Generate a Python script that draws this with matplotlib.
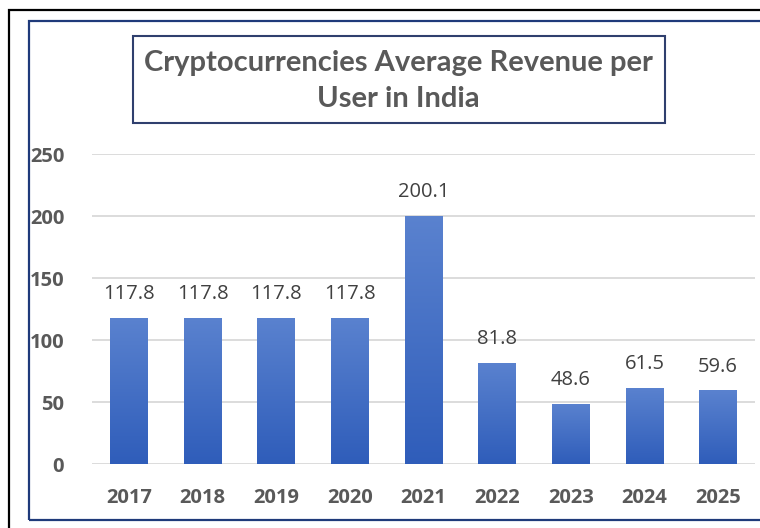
import matplotlib
matplotlib.use("Agg")
import matplotlib.pyplot as plt
import numpy as np
from matplotlib.patches import Rectangle
from matplotlib.colors import LinearSegmentedColormap

years = ["2017", "2018", "2019", "2020", "2021", "2022", "2023", "2024", "2025"]
values = [117.8, 117.8, 117.8, 117.8, 200.1, 81.8, 48.6, 61.5, 59.6]
labels = ["117.8", "117.8", "117.8", "117.8", "200.1", "81.8", "48.6", "61.5", "59.6"]
yticks = [0, 50, 100, 150, 200, 250]
title = "Cryptocurrencies Average Revenue per\nUser in India"

W, H = 760, 528
fig = plt.figure(figsize=(W / 100, H / 100), dpi=100)
fig.patch.set_facecolor("white")

# borders
fig.patches.append(Rectangle((8.5 / W, -0.1), 1.0, (H - 10) / H + 0.1, transform=fig.transFigure,
                             fill=False, edgecolor="black", linewidth=1.6))
fig.patches.append(Rectangle((28.5 / W, 1 - 520 / H), 1.0, 499 / H, transform=fig.transFigure,
                             fill=False, edgecolor="#1f3a7a", linewidth=1.6))

ax = fig.add_axes([92 / W, 1 - 464 / H, 663 / W, 310 / H])
x = np.arange(len(years))
bars = ax.bar(x, values, width=0.51, color="#4472c4", zorder=2)

cmap = LinearSegmentedColormap.from_list("g", ["#2f5dba", "#5a82cf"])
grad = np.linspace(0, 1, 256).reshape(-1, 1)
for b in bars:
    x0, w, h = b.get_x(), b.get_width(), b.get_height()
    im = ax.imshow(grad, extent=(x0, x0 + w, 0, h), origin="lower", cmap=cmap,
                   aspect="auto", zorder=3)
    im.set_clip_path(b)

for xi, v, lab in zip(x, values, labels):
    ax.text(xi, v + 19, lab, ha="center", va="center", fontsize=14.5,
            color="#404040", family="Open Sans")

ax.set_xlim(-0.5, 8.5)
ax.set_ylim(0, 250)
ax.set_yticks(yticks)
ax.set_yticklabels([str(t) for t in yticks])
ax.set_xticks(x)
ax.set_xticklabels(years)
for lbl in ax.get_xticklabels() + ax.get_yticklabels():
    lbl.set_fontweight("bold")
    lbl.set_color("#595959")
    lbl.set_fontsize(14.5)
    lbl.set_family("Open Sans")
ax.tick_params(axis="both", length=0)
ax.tick_params(axis="x", pad=17)
ax.tick_params(axis="y", pad=20)
ax.grid(axis="y", color="#d9d9d9", linewidth=1.3, zorder=0)
for s in ax.spines.values():
    s.set_visible(False)
ax.set_facecolor("none")

# title box
fig.patches.append(Rectangle((133 / W, 1 - 123 / H), 532 / W, 87 / H, transform=fig.transFigure,
                             fill=False, edgecolor="#2f3f6e", linewidth=1.5))
fig.text(398 / W, 1 - 81 / H, title, ha="center", va="center", fontsize=21,
         fontweight="bold", color="#595959", family="Lato", linespacing=1.45)

fig.savefig("out.png", dpi=100)
